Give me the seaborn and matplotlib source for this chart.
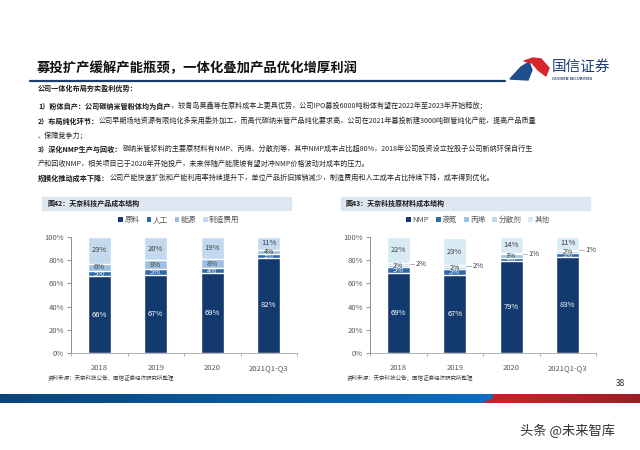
import matplotlib
matplotlib.use('Agg')
import matplotlib.pyplot as plt
import numpy as np
import pandas as pd
import seaborn as sns
from matplotlib.patches import Patch, Rectangle, Polygon
from matplotlib.lines import Line2D

years = ['2018', '2019', '2020', '2021Q1-Q3']

# 图42 product cost structure (%)
cost_names = ['原料', '人工', '能源', '制造费用']
raw_material = [66, 67, 69, 82]
labour = [5, 5, 4, 3]
energy = [6, 8, 8, 4]
manufacturing = [23, 20, 19, 11]

# 图43 raw material cost structure (%)
mat_names = ['NMP', '液氮', '丙烯', '分散剂', '其他']
nmp = [69, 67, 79, 83]
liquid_n = [5, 5, 3, 3]
propylene = [2, 2, 3, 2]
dispersant = [2, 2, 1, 1]
other = [22, 23, 14, 11]

title = '募投扩产缓解产能瓶颈，一体化叠加产品优化增厚利润'
body = [
    ('公司一体化布局夯实盈利优势：', ''),
    ('1）粉体自产：公司碳纳米管粉体均为自产', '，较青岛昊鑫等在原料成本上更具优势，公司IPO募投6000吨粉体有望在2022年至2023年开始释放；'),
    ('2）布局纯化环节：', '公司早期场地资源有限纯化多采用委外加工，而高代碳纳米管产品纯化要求高，公司在2021年募投新建3000吨碳管纯化产能，提高产品质量'),
    ('', '、保障竞争力；'),
    ('3）深化NMP生产与回收：', '碳纳米管浆料的主要原材料有NMP、丙烯、分散剂等，其中NMP成本占比超80%，2018年公司投资设立控股子公司新纳环保自行生'),
    ('', '产和回收NMP，相关项目已于2020年开始投产，未来伴随产能爬坡有望对冲NMP价格波动对成本的压力。'),
    ('规模化推动成本下降：', '公司产能快速扩张和产能利用率持续提升下，单位产品折旧摊销减少，制造费用和人工成本占比持续下降，成本得到优化。'),
]
body_y = [88, 106, 121, 135, 149, 164, 178]

sns.set_theme(style='white')
plt.rcParams['font.family'] = ['Noto Sans CJK SC', 'DejaVu Sans']

W, H = 640, 450
fig = plt.figure(figsize=(6.4, 4.5), dpi=100)


def fx(x):
    return x / W


def fy(y):
    return 1 - y / H


# header
fig.text(fx(37), fy(68), title, fontsize=9.6, weight='bold', color='#111111', va='center')
fig.add_artist(Line2D([fx(30), fx(505)], [fy(81), fy(81)], color='#1b3f6b', lw=1.6))

# logo
fig.add_artist(Polygon([(fx(510), fy(79)), (fx(521), fy(67)), (fx(529), fy(62)),
                        (fx(532), fy(70)), (fx(528), fy(80))], closed=True,
                       color='#1c4f8c', transform=fig.transFigure))
fig.add_artist(Polygon([(fx(524), fy(61)), (fx(533), fy(58)), (fx(541), fy(59)),
                        (fx(549), fy(68)), (fx(546), fy(76)), (fx(538), fy(70)),
                        (fx(532), fy(63))], closed=True,
                       color='#d7262e', transform=fig.transFigure))
fig.text(fx(552), fy(67), '国信证券', fontsize=10.5, color='#1f3f78', va='center')
fig.text(fx(552), fy(79), 'GUOSEN SECURITIES', fontsize=2.8, weight='bold', color='#1f3f78', va='center')

# body text with mixed weights
fig.canvas.draw()
renderer = fig.canvas.get_renderer()
for (bold_part, normal_part), y in zip(body, body_y):
    x = 38
    if bold_part:
        t = fig.text(fx(x), fy(y), bold_part, fontsize=5.1, weight='bold', color='#1a1a1a', va='center')
        bb = t.get_window_extent(renderer)
        x += bb.width
    if normal_part:
        fig.text(fx(x), fy(y), normal_part, fontsize=5.1, color='#262626', va='center')


def panel(left_px, fig_title, names, series, colors, label_colors, outside_idx=None):
    # title bar
    fig.add_artist(Rectangle((fx(left_px - 29), fy(210)), fx(249), 13 / H,
                             transform=fig.transFigure, color='#dde6f1', zorder=0))
    fig.text(fx(left_px - 24), fy(203.5), fig_title, fontsize=5, weight='bold',
             color='#1a1a1a', va='center')

    ax = fig.add_axes([fx(left_px), fy(353), fx(226), 116 / H])
    cum = np.cumsum(np.array(series), axis=0)
    for i in range(len(series) - 1, -1, -1):
        df = pd.DataFrame({'year': years, 'val': cum[i]})
        sns.barplot(data=df, x='year', y='val', order=years, color=colors[i],
                    width=0.4, saturation=1, ax=ax)
    for i in range(len(series)):
        for j in range(len(years)):
            v = series[i][j]
            mid = cum[i][j] - v / 2
            if outside_idx is not None and i == outside_idx:
                ax.plot([j + 0.2, j + 0.28], [mid, mid], color='#a6a6a6', lw=0.6)
                ax.text(j + 0.31, mid, f'{v}%', fontsize=5.5, color='#404040',
                        va='center', ha='left')
            else:
                fs = 5.5 if v >= 5 else 5.0
                ax.text(j, mid, f'{v}%', fontsize=fs, color=label_colors[i],
                        va='center', ha='center')
    ax.set_ylim(0, 100)
    ax.set_xlim(-0.5, 3.5)
    ax.set_yticks(range(0, 101, 20))
    ax.set_yticklabels([f'{t}%' for t in range(0, 101, 20)])
    ax.set_xlabel('')
    ax.set_ylabel('')
    ax.set_xticks(range(4))
    ax.set_xticks([-0.5, 0.5, 1.5, 2.5, 3.5], minor=True)
    ax.tick_params(axis='y', left=True, length=3, width=0.6, color='#7f7f7f',
                   labelsize=5.5, labelcolor='#595959', pad=2)
    ax.tick_params(axis='x', which='major', bottom=False, labelsize=5.5,
                   labelcolor='#595959', pad=2)
    ax.tick_params(axis='x', which='minor', bottom=True, length=2.5, width=0.6,
                   color='#a6a6a6')
    for s in ['top', 'right']:
        ax.spines[s].set_visible(False)
    ax.spines['left'].set_color('#7f7f7f')
    ax.spines['left'].set_linewidth(0.6)
    ax.spines['bottom'].set_color('#a6a6a6')
    ax.spines['bottom'].set_linewidth(0.6)
    ax.patch.set_alpha(0)

    handles = [Patch(facecolor=c, edgecolor='none', label=n) for n, c in zip(names, colors)]
    fig.legend(handles=handles, loc='center', bbox_to_anchor=(fx(left_px + 108), fy(220)),
               ncol=len(names), frameon=False, fontsize=5.5, handlelength=0.6,
               handleheight=0.6, handletextpad=0.2, columnspacing=0.9,
               labelcolor='#595959', borderpad=0)

    fig.text(fx(left_px - 23), fy(377.5), '资料来源：天奈科技公告，国信证券经济研究所整理',
             fontsize=4, color='#404040', va='center')
    return ax


panel(71, '图42：天奈科技产品成本结构', cost_names,
      [raw_material, labour, energy, manufacturing],
      ['#123a6e', '#2f6aab', '#9cc0e4', '#c3d9ef'],
      ['white', 'white', '#404040', '#404040'])
panel(370, '图43：天奈科技原材料成本结构', mat_names,
      [nmp, liquid_n, propylene, dispersant, other],
      ['#123a6e', '#2f6aab', '#9cc3e6', '#bed8ee', '#d8ebf4'],
      ['white', 'white', '#404040', '#404040', '#404040'], outside_idx=3)

# page number
fig.text(fx(620), fy(383), '38', fontsize=6, color='#262626', va='center', ha='center')

# bottom band gradient
band = fig.add_axes([0, fy(403), 1, 9 / H])
xs = np.linspace(0, 1, 640)
img = np.zeros((1, 640, 3))
blue_l = np.array([0.04, 0.27, 0.47])
blue_r = np.array([0.05, 0.43, 0.75])
red_l = np.array([0.85, 0.12, 0.16])
red_r = np.array([0.60, 0.12, 0.15])
for k, v in enumerate(xs):
    if v < 0.77:
        f = v / 0.77
        img[0, k] = blue_l * (1 - f) + blue_r * f
    else:
        f = (v - 0.77) / 0.23
        img[0, k] = red_l * (1 - f) + red_r * f
band.imshow(img, aspect='auto', extent=(0, 1, 0, 1))
band.add_patch(Polygon([(0.755, 0), (0.79, 1), (0.80, 1), (0.765, 0)], closed=True,
                       color='#c81e2a'))
band.set_xlim(0, 1)
band.set_ylim(0, 1)
band.axis('off')

# watermark
fig.text(fx(567), fy(431), '头条 @未来智库', fontsize=9.5, color='#333333',
         va='center', ha='center')

fig.savefig('out.png', dpi=100)
